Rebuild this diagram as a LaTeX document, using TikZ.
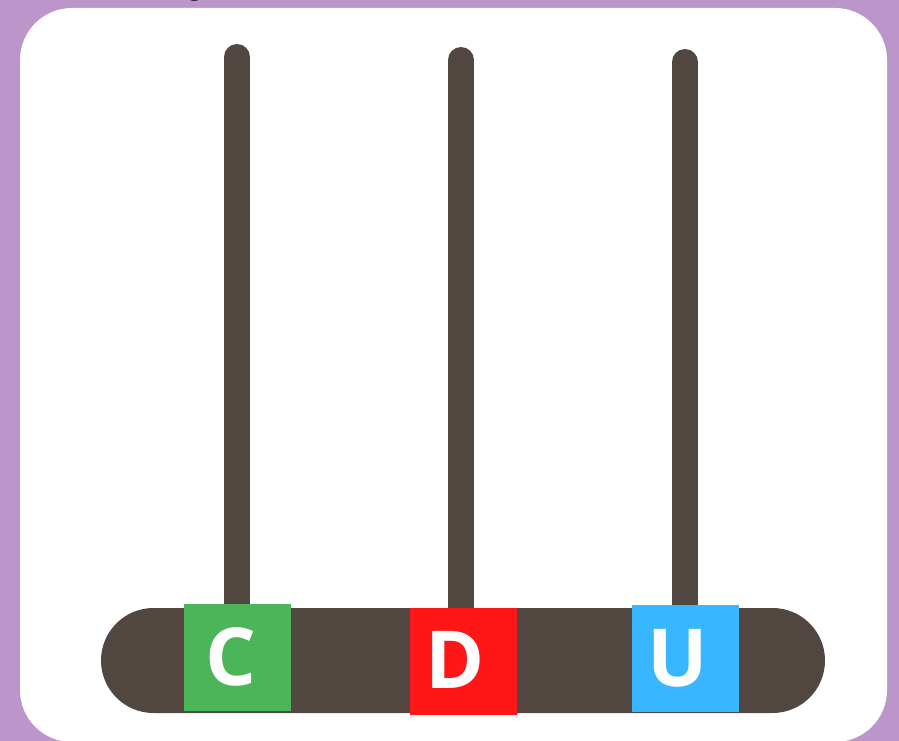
\documentclass[tikz,border=0pt]{standalone}
\usepackage{fontspec}
\usetikzlibrary{shapes.misc}
\setmainfont{Open Sans}
\definecolor{bgpurple}{HTML}{BC96CA}
\definecolor{rodbrown}{HTML}{524640}
\definecolor{cgreen}{HTML}{4CB55A}
\definecolor{dred}{HTML}{FF1616}
\definecolor{ublue}{HTML}{38B6FF}
\begin{document}
\begin{tikzpicture}[x=1pt,y=-1pt,
  rod/.style={draw=rodbrown,line width=26pt,line cap=round},
  square/.style={minimum width=107pt,minimum height=107pt,inner sep=0pt},
  letter/.style={inner sep=0pt,text=white,font=\fontsize{80}{80}\selectfont\bfseries}]
\useasboundingbox (0,0) rectangle (899,741);
\fill[bgpurple] (0,0) rectangle (899,741);
\fill[white,rounded corners=52pt] (20,8) rectangle (887,742);
\node[anchor=base,inner sep=0pt,font=\fontsize{24}{24}\selectfont] (g) at (195,-4) {g};
% bar
\node[fill=rodbrown,rounded rectangle,minimum width=724pt,minimum height=105pt,inner sep=0pt] (bar) at (463,660.5) {};
% rods
\coordinate (t1) at (237,57);
\coordinate (t2) at (461,60);
\coordinate (t3) at (685,62);
\draw[rod] (t1) -- (237,620);
\draw[rod] (t2) -- (461,620);
\draw[rod] (t3) -- (685,620);
% squares
\node[square,fill=cgreen] (C) at (237.5,657.5) {};
\node[square,fill=dred] (D) at (463.5,661.5) {};
\node[square,fill=ublue] (U) at (685.5,658.5) {};
\node[letter] (Ct) at ([xshift=-7pt,yshift=1pt]C.center) {C};
\node[letter] (Dt) at ([xshift=-8pt,yshift=2pt]D.center) {D};
\node[letter] (Ut) at ([xshift=-8pt,yshift=0pt]U.center) {U};
\end{tikzpicture}
\end{document}
